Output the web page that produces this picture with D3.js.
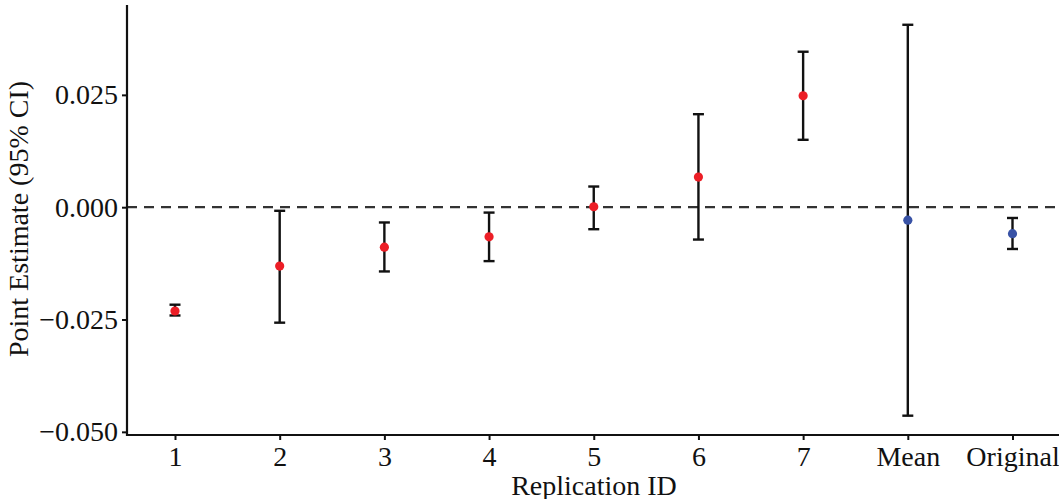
<!DOCTYPE html>
<html><head><meta charset="utf-8">
<script src="https://cdn.jsdelivr.net/npm/d3@7"></script>
<style>html,body{margin:0;padding:0;background:#fff;}</style>
</head><body>
<svg id="chart" width="1059" height="499"></svg>
<script>
const categories = ["1","2","3","4","5","6","7","Mean","Original"];
const estimates = [-0.0231, -0.0131, -0.0089, -0.0066, 0.0001, 0.0067, 0.0248, -0.0029, -0.0059];
const lower     = [-0.0241, -0.0257, -0.0143, -0.0120, -0.0049, -0.0072, 0.0150, -0.0464, -0.0093];
const upper     = [-0.0217, -0.0008, -0.0034, -0.0012, 0.0046, 0.0207, 0.0346, 0.0406, -0.0024];
const groups    = ["rep","rep","rep","rep","rep","rep","rep","summary","summary"];
const yTicks = [-0.05, -0.025, 0, 0.025];

const svg = d3.select("#chart");
const font = "'Liberation Serif', 'Times New Roman', serif";
const x = d3.scalePoint().domain(categories).range([175, 1012.5]);
const y = d3.scaleLinear().domain([-0.0507, 0.045]).range([435, 5]);
const color = d3.scaleOrdinal().domain(["rep","summary"]).range(["#EC1E26","#3953A6"]);

// reference line
svg.append("line").attr("x1", 127).attr("x2", 1059)
  .attr("y1", y(0)).attr("y2", y(0))
  .attr("stroke", "#333").attr("stroke-width", 2.2).attr("stroke-dasharray", "10,7");

const data = categories.map((c,i)=>({c, est: estimates[i], lo: lower[i], hi: upper[i], g: groups[i]}));

const eb = svg.append("g").attr("stroke", "#111").attr("stroke-width", 2.4).attr("fill","none");
data.forEach(d=>{
  const cx = x(d.c);
  eb.append("line").attr("x1", cx).attr("x2", cx).attr("y1", y(d.lo)).attr("y2", y(d.hi));
  eb.append("line").attr("x1", cx-5.5).attr("x2", cx+5.5).attr("y1", y(d.lo)).attr("y2", y(d.lo));
  eb.append("line").attr("x1", cx-5.5).attr("x2", cx+5.5).attr("y1", y(d.hi)).attr("y2", y(d.hi));
});

svg.append("g").selectAll("circle").data(data).join("circle")
  .attr("cx", d=>x(d.c)).attr("cy", d=>y(d.est)).attr("r", 4.6)
  .attr("fill", d=>color(d.g));

// axes
const yAxis = svg.append("g").attr("transform", "translate(127,0)")
  .call(d3.axisLeft(y).tickValues(yTicks).tickSize(5).tickPadding(4)
    .tickFormat(d => d3.format(".3f")(d).replace("-", "\u2212")));
const xAxis = svg.append("g").attr("transform", "translate(0,435)")
  .call(d3.axisBottom(x).tickSize(5).tickPadding(6));
[yAxis, xAxis].forEach(a=>{
  a.select(".domain").remove();
  a.selectAll(".tick line").attr("stroke", "#111").attr("stroke-width", 2);
  a.selectAll(".tick text").attr("fill", "#111").style("font-family", font).style("font-size", "28px");
});
svg.append("line").attr("x1",127).attr("x2",127).attr("y1",5).attr("y2",436)
  .attr("stroke","#111").attr("stroke-width",2.2);
svg.append("line").attr("x1",126).attr("x2",1059).attr("y1",435).attr("y2",435)
  .attr("stroke","#111").attr("stroke-width",2.2);

svg.append("text").attr("x", 594).attr("y", 495).attr("text-anchor","middle")
  .style("font-family", font).style("font-size","28px").attr("fill","#111").text("Replication ID");
svg.append("text").attr("transform", "translate(28,219) rotate(-90)").attr("text-anchor","middle")
  .style("font-family", font).style("font-size","28px").attr("fill","#111").text("Point Estimate (95% CI)");
</script>
</body></html>
